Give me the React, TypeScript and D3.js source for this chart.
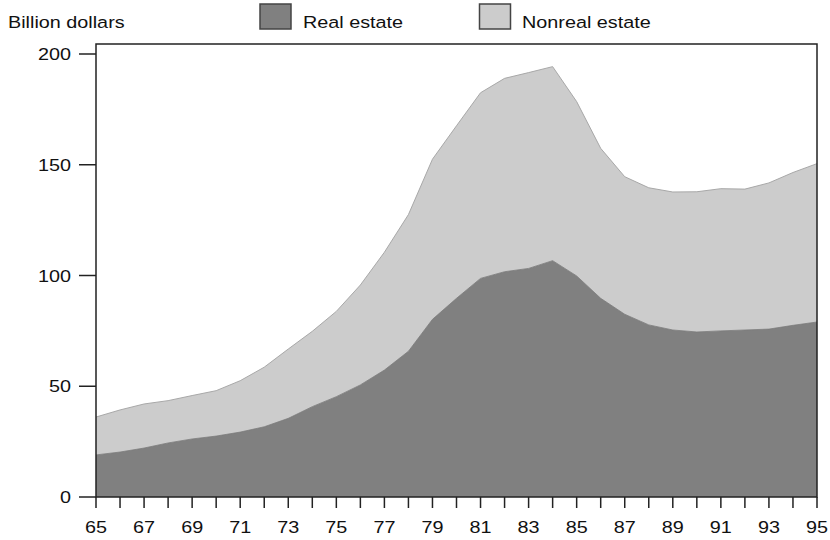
import React, { useEffect } from "react";
import * as d3 from "d3";

const years = [65,66,67,68,69,70,71,72,73,74,75,76,77,78,79,80,81,82,83,84,85,86,87,88,89,90,91,92,93,94,95];
const realEstate = [19,20.3,22.1,24.4,26.2,27.5,29.3,31.7,35.5,40.8,45.3,50.6,57.3,65.8,80.2,89.7,98.7,101.7,103.2,106.7,99.8,89.7,82.5,77.7,75.4,74.5,75,75.4,75.8,77.5,79];
const total = [36.1,39.3,42,43.5,45.8,48,52.5,58.6,66.8,74.8,83.8,95.7,110.5,127.5,152.5,167.6,182.5,189,191.6,194.3,178.5,157.4,144.6,139.6,137.7,137.8,139.2,139,141.8,146.5,150.5];
const yTicks = [0,50,100,150,200];
const xLabels = [65,67,69,71,73,75,77,79,81,83,85,87,89,91,93,95];
const seriesNames = ["Real estate","Nonreal estate"];
const seriesColors = ["#808080","#cccccc"];

const FONT = "'Liberation Sans', Arial, Helvetica, sans-serif";
const SX = 1.2;

function T({ x, y, anchor = "start", children }: { x: number; y: number; anchor?: string; children: React.ReactNode }) {
  return (
    <text transform={`translate(${x},${y}) scale(${SX},1)`} textAnchor={anchor} fontFamily={FONT} fontSize={16.5} fill="#111">
      {children}
    </text>
  );
}

export default function App() {
  useEffect(() => { document.body.style.margin = "0"; }, []);
  const left = 96, right = 817, top = 44, bottom = 497;
  const x = d3.scaleLinear().domain([65, 95]).range([left, right]);
  const y = d3.scaleLinear().domain([0, 200]).range([bottom, 54]);

  const areaReal = d3.area<number>().x((_, i) => x(years[i])).y0(y(0)).y1((d) => y(d));
  const areaNon = d3.area<number>().x((_, i) => x(years[i])).y0((_, i) => y(realEstate[i])).y1((d) => y(d));
  const lineTop = d3.line<number>().x((_, i) => x(years[i])).y((d) => y(d));

  return (
    <svg width={830} height={540} style={{ position: "absolute", left: 0, top: 0, background: "#fff" }}>
      <path d={areaNon(total) || ""} fill={seriesColors[1]} />
      <path d={lineTop(total) || ""} fill="none" stroke="#a8a8a8" strokeWidth={1} />
      <path d={areaReal(realEstate) || ""} fill={seriesColors[0]} />
      <path d={lineTop(realEstate) || ""} fill="none" stroke="#7a7a7a" strokeWidth={0.8} />
      <rect x={left} y={top} width={right - left} height={bottom - top} fill="none" stroke="#222" strokeWidth={1.5} />
      {yTicks.map((t) => (
        <g key={"y" + t}>
          <line x1={79} x2={left} y1={y(t)} y2={y(t)} stroke="#222" strokeWidth={1.5} />
          <T x={71} y={y(t) + 6} anchor="end">{t}</T>
        </g>
      ))}
      {years.map((yr) => (
        <line key={"xt" + yr} x1={x(yr)} x2={x(yr)} y1={bottom} y2={508} stroke="#222" strokeWidth={1.5} />
      ))}
      {xLabels.map((yr) => (
        <T key={"xl" + yr} x={x(yr)} y={533} anchor="middle">{yr}</T>
      ))}
      <T x={8} y={28}>Billion dollars</T>
      <rect x={260} y={4} width={31} height={25} fill={seriesColors[0]} stroke="#444" strokeWidth={1.5} />
      <T x={303} y={28}>{seriesNames[0]}</T>
      <rect x={479.5} y={4} width={31} height={25} fill={seriesColors[1]} stroke="#444" strokeWidth={1.5} />
      <T x={522} y={28}>{seriesNames[1]}</T>
    </svg>
  );
}
